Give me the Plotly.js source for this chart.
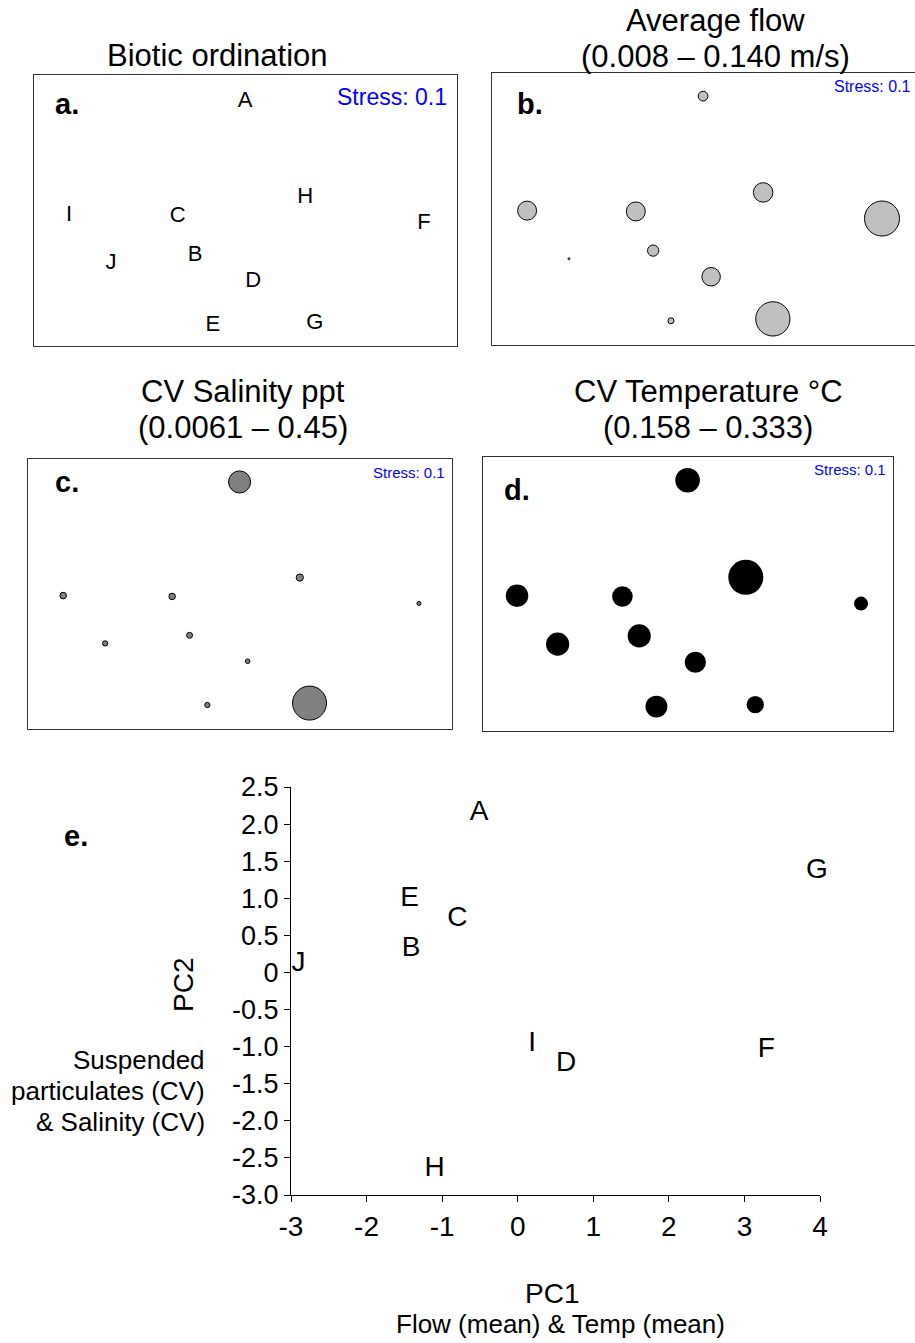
<!DOCTYPE html>
<html><head><meta charset="utf-8">
<script src="https://cdn.plot.ly/plotly-3.0.1.min.js"></script>
<style>html,body{margin:0;padding:0;background:#fff;} #chart{width:915px;height:1343px;}</style>
</head><body><div id="chart"></div>
<script>
// ---- data ----
const sites = ['A','B','C','D','E','F','G','H','I','J'];
// NMDS ordination coordinates (biotic ordination)
const nmds1 = [0.499, 0.381, 0.340, 0.518, 0.423, 0.922, 0.664, 0.641, 0.083, 0.182];
const nmds2 = [0.915, 0.347, 0.491, 0.251, 0.089, 0.465, 0.096, 0.561, 0.494, 0.317];
// environmental overlays
const flowMean   = [0.039, 0.045, 0.076, 0.074, 0.024, 0.140, 0.137, 0.078, 0.076, 0.008];
const salinityCV = [0.274, 0.035, 0.043, 0.015, 0.024, 0.0061, 0.450, 0.054, 0.044, 0.025];
const tempCV     = [0.246, 0.234, 0.213, 0.218, 0.224, 0.158, 0.185, 0.333, 0.229, 0.234];
// PCA scores
const pc1 = [-0.51, -1.41, -0.80, 0.64, -1.43, 3.29, 3.96, -1.10, 0.19, -2.90];
const pc2 = [ 2.15,  0.32,  0.72, -1.24, 0.99, -1.04, 1.37, -2.65, -0.96, 0.12];
const pcXTicks = [-3, -2, -1, 0, 1, 2, 3, 4];
const pcXTickText = ['-3', '-2', '-1', '0', '1', '2', '3', '4'];
const pcYTicks = [-3, -2.5, -2, -1.5, -1, -0.5, 0, 0.5, 1, 1.5, 2, 2.5];
const pcYTickText = ['-3.0', '-2.5', '-2.0', '-1.5', '-1.0', '-0.5', '0', '0.5', '1.0', '1.5', '2.0', '2.5'];

// ---- helpers ----
const W = 915, H = 1343;
const FONT = 'Liberation Sans, Arial, sans-serif';
function px2x(p) { return p / W; }
function px2y(p) { return 1 - p / H; }
function scaleSizes(vals, minPx, maxPx) {
  const lo = Math.min(...vals), hi = Math.max(...vals);
  return vals.map(v => minPx + (v - lo) / (hi - lo) * (maxPx - minPx));
}
function boxAxis(domain, anchor, mirror, range) {
  return {domain: domain, range: range || [0, 1], anchor: anchor, showline: true, mirror: mirror,
    linecolor: '#333', linewidth: 1, showgrid: false, zeroline: false,
    showticklabels: false, ticks: '', fixedrange: true};
}
function ann(text, x, y, size, opts) {
  return Object.assign({text: text, x: px2x(x), y: px2y(y), xref: 'paper', yref: 'paper',
    showarrow: false, xanchor: 'center', yanchor: 'middle',
    font: {family: FONT, size: size, color: '#000'}}, opts || {});
}

const traces = [
  {type: 'scatter', mode: 'text', x: nmds1, y: nmds2, text: sites, xaxis: 'x', yaxis: 'y',
   textposition: 'middle center', textfont: {family: FONT, size: 22, color: '#000'},
   cliponaxis: false, hoverinfo: 'skip'},
  {type: 'scatter', mode: 'markers', x: nmds1, y: nmds2, xaxis: 'x2', yaxis: 'y2',
   marker: {size: scaleSizes(flowMean, 2, 35), color: '#c0c0c0', opacity: 1, line: {color: '#000', width: 1}},
   cliponaxis: false, hoverinfo: 'skip'},
  {type: 'scatter', mode: 'markers', x: nmds1, y: nmds2, xaxis: 'x3', yaxis: 'y3',
   marker: {size: scaleSizes(salinityCV, 4, 34), color: '#808080', opacity: 1, line: {color: '#000', width: 1}},
   cliponaxis: false, hoverinfo: 'skip'},
  {type: 'scatter', mode: 'markers', x: nmds1, y: nmds2, xaxis: 'x4', yaxis: 'y4',
   marker: {size: scaleSizes(tempCV, 14, 35), color: '#000', opacity: 1, line: {width: 0}},
   cliponaxis: false, hoverinfo: 'skip'},
  {type: 'scatter', mode: 'text', x: pc1, y: pc2, text: sites, xaxis: 'x5', yaxis: 'y5',
   textposition: 'middle center', textfont: {family: FONT, size: 28, color: '#000'},
   cliponaxis: false, hoverinfo: 'skip'}
];

const layout = {
  width: W, height: H, margin: {l: 0, r: 0, t: 0, b: 0},
  paper_bgcolor: '#fff', plot_bgcolor: 'rgba(0,0,0,0)', showlegend: false,
  font: {family: FONT, color: '#000'},
  xaxis:  boxAxis([px2x(34), px2x(457)], 'y', true),
  yaxis:  boxAxis([px2y(346), px2y(75)], 'x', true, [0.012, 1.012]),
  xaxis2: boxAxis([px2x(492), 1], 'y2', true),
  yaxis2: boxAxis([px2y(345), px2y(73)], 'x2', false),
  xaxis3: boxAxis([px2x(28), px2x(452)], 'y3', true),
  yaxis3: boxAxis([px2y(729), px2y(459)], 'x3', true),
  xaxis4: boxAxis([px2x(483), px2x(893)], 'y4', true),
  yaxis4: boxAxis([px2y(731), px2y(457)], 'x4', true),
  xaxis5: {domain: [px2x(291), px2x(820)], range: [-3, 4], anchor: 'y5',
    tickvals: pcXTicks, ticktext: pcXTickText, ticks: 'outside', ticklen: 6, tickcolor: '#000',
    showline: true, linecolor: '#000', linewidth: 1, showgrid: false, zeroline: false,
    tickfont: {family: FONT, size: 28, color: '#000'}, fixedrange: true},
  yaxis5: {domain: [px2y(1195), px2y(787)], range: [-3, 2.5], anchor: 'x5',
    tickvals: pcYTicks, ticktext: pcYTickText, ticks: 'outside', ticklen: 6, tickcolor: '#000',
    showline: true, linecolor: '#000', linewidth: 1, showgrid: false, zeroline: false,
    tickfont: {family: FONT, size: 27, color: '#000'}, fixedrange: true},
  annotations: [
    ann('Biotic ordination', 217, 55, 31),
    ann('Average flow', 715, 20, 31),
    ann('(0.008 \u2013 0.140 m/s)', 715, 57, 31),
    ann('CV Salinity ppt', 243, 391, 31),
    ann('(0.0061 \u2013 0.45)', 243, 428, 31),
    ann('CV Temperature \u00B0C', 708, 391, 31),
    ann('(0.158 \u2013 0.333)', 708, 428, 31),
    ann('<b>a.</b>', 53, 104, 29, {xanchor: 'left'}),
    ann('<b>b.</b>', 515, 104, 29, {xanchor: 'left'}),
    ann('<b>c.</b>', 53, 482, 29, {xanchor: 'left'}),
    ann('<b>d.</b>', 502, 490, 29, {xanchor: 'left'}),
    ann('<b>e.</b>', 62, 836, 29, {xanchor: 'left'}),
    ann('Stress: 0.1', 449, 97, 23, {xanchor: 'right', font: {family: FONT, size: 23, color: '#0000ff'}}),
    ann('Stress: 0.1', 913, 86, 16, {xanchor: 'right', font: {family: FONT, size: 16, color: '#0000ff'}}),
    ann('Stress: 0.1', 447, 472, 15, {xanchor: 'right', font: {family: FONT, size: 15, color: '#0000ff'}}),
    ann('Stress: 0.1', 888, 469, 15, {xanchor: 'right', font: {family: FONT, size: 15, color: '#0000ff'}}),
    ann('PC2', 183, 985, 28, {textangle: -90}),
    ann('Suspended', 207, 1060, 26, {xanchor: 'right'}),
    ann('particulates (CV)', 207, 1091, 26, {xanchor: 'right'}),
    ann('&amp; Salinity (CV)', 207, 1122, 26, {xanchor: 'right'}),
    ann('PC1', 552, 1293, 28),
    ann('Flow (mean) &amp; Temp (mean)', 560, 1324, 26)
  ]
};

Plotly.newPlot('chart', traces, layout, {staticPlot: true, displayModeBar: false});
</script>
</body></html>
